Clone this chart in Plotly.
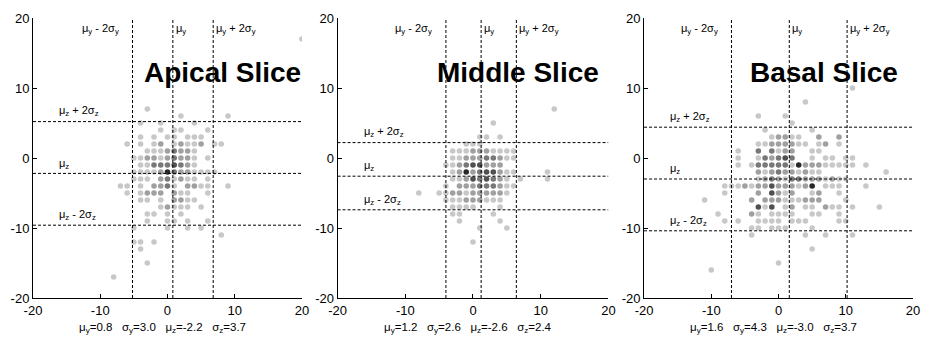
import plotly.graph_objects as go

# ---------------- data ----------------
slice_names = ["Apical Slice", "Middle Slice", "Basal Slice"]
mu_y = [0.8, 1.2, 1.6]
sigma_y = [3.0, 2.6, 4.3]
mu_z = [-2.2, -2.6, -3.0]
sigma_z = [3.7, 2.4, 3.7]
axis_ticks = [-20, -10, 0, 10, 20]
title_pos_y = [8.2, 6.6, 6.8]   # horizontal centre of slice title (data units)

# (y, z, count) for each occupied grid cell
apical_points = [
    (20, 17, 1), (-3, 7, 1), (2, 6, 1), (9, 6, 1),
    (-4, 5, 1), (-1, 5, 1), (4, 5, 1),
    (-1, 4, 1), (1, 4, 1), (2, 4, 1), (6, 4, 1),
    (-4, 3, 1), (-2, 3, 1), (0, 3, 1), (1, 3, 1), (3, 3, 1), (4, 3, 1), (5, 3, 1),
    (-6, 2, 1), (-4, 2, 1), (-2, 2, 1), (-1, 2, 2), (1, 2, 1), (2, 2, 2), (3, 2, 1), (4, 2, 1), (5, 2, 2), (7, 2, 1), (8, 2, 1),
    (-3, 1, 1), (-2, 1, 1), (-1, 1, 1), (0, 1, 2), (1, 1, 3), (2, 1, 2), (3, 1, 2), (4, 1, 1),
    (-5, 0, 1), (-4, 0, 1), (-3, 0, 2), (-2, 0, 2), (-1, 0, 1), (0, 0, 2), (1, 0, 3), (2, 0, 2), (3, 0, 2), (4, 0, 1), (6, 0, 1),
    (-4, -1, 1), (-3, -1, 1), (-2, -1, 3), (-1, -1, 3), (0, -1, 3), (1, -1, 4), (2, -1, 3), (3, -1, 2), (4, -1, 1),
    (-5, -2, 1), (-4, -2, 1), (-3, -2, 1), (-2, -2, 1), (-1, -2, 2), (0, -2, 5), (1, -2, 3), (2, -2, 2), (3, -2, 2), (4, -2, 1), (5, -2, 1), (6, -2, 1), (7, -2, 1),
    (-5, -3, 1), (-4, -3, 1), (-3, -3, 1), (-1, -3, 2), (0, -3, 3), (1, -3, 1), (2, -3, 2), (3, -3, 1), (4, -3, 1), (6, -3, 1),
    (-7, -4, 1), (-6, -4, 1), (-4, -4, 1), (-2, -4, 2), (-1, -4, 2), (0, -4, 3), (1, -4, 1), (3, -4, 2), (4, -4, 2), (5, -4, 1), (6, -4, 1), (9, -4, 1),
    (-6, -5, 1), (-4, -5, 1), (-3, -5, 2), (-2, -5, 2), (-1, -5, 2), (1, -5, 2), (2, -5, 1), (3, -5, 1), (6, -5, 1),
    (-4, -6, 1), (-3, -6, 1), (-1, -6, 1), (1, -6, 2), (2, -6, 2), (3, -6, 1), (4, -6, 1),
    (-1, -7, 1), (0, -7, 2), (1, -7, 1), (2, -7, 1), (3, -7, 1), (5, -7, 1),
    (-3, -8, 1), (-2, -8, 1), (0, -8, 1), (2, -8, 1),
    (-3, -9, 1), (0, -9, 1), (1, -9, 1), (3, -9, 1), (6, -9, 1),
    (-5, -10, 1), (0, -10, 1), (3, -10, 1), (5, -10, 1),
    (8, -11, 1), (-5, -12, 1), (-4, -12, 1), (-2, -12, 1), (-4, -13, 1), (-3, -15, 1), (-8, -17, 1),
]

middle_points = [
    (12, 7, 1), (3, 5, 1),
    (1, 3, 1), (2, 3, 1), (4, 3, 1),
    (-1, 2, 1), (0, 2, 1), (1, 2, 1),
    (-3, 1, 1), (-2, 1, 1), (-1, 1, 1), (0, 1, 2), (1, 1, 2), (2, 1, 2), (3, 1, 1), (4, 1, 1), (5, 1, 1), (6, 1, 1),
    (-3, 0, 1), (-2, 0, 1), (-1, 0, 2), (0, 0, 2), (1, 0, 2), (2, 0, 3), (3, 0, 3), (4, 0, 2), (5, 0, 1), (6, 0, 1),
    (-4, -1, 1), (-3, -1, 1), (-2, -1, 2), (-1, -1, 3), (0, -1, 4), (1, -1, 4), (2, -1, 2), (3, -1, 2), (4, -1, 2),
    (-3, -2, 1), (-2, -2, 2), (-1, -2, 5), (0, -2, 2), (1, -2, 3), (2, -2, 4), (3, -2, 4), (4, -2, 2), (5, -2, 1), (6, -2, 1), (11, -2, 1),
    (-3, -3, 1), (-2, -3, 1), (-1, -3, 2), (0, -3, 4), (1, -3, 3), (2, -3, 4), (3, -3, 3), (4, -3, 2), (5, -3, 1), (7, -3, 1), (11, -3, 1),
    (-4, -4, 1), (-2, -4, 2), (-1, -4, 2), (0, -4, 2), (1, -4, 3), (2, -4, 3), (3, -4, 3), (4, -4, 2), (5, -4, 1), (6, -4, 1),
    (-8, -5, 1), (-5, -5, 1), (-4, -5, 1), (-3, -5, 2), (-2, -5, 2), (-1, -5, 1), (0, -5, 2), (1, -5, 2), (2, -5, 2), (3, -5, 2), (4, -5, 2), (5, -5, 1),
    (-4, -6, 1), (-3, -6, 1), (-2, -6, 1), (-1, -6, 2), (0, -6, 2), (1, -6, 2), (2, -6, 1), (3, -6, 1), (4, -6, 1),
    (-3, -7, 1), (-2, -7, 1), (-1, -7, 1), (0, -7, 1), (4, -7, 1),
    (-3, -8, 1), (-2, -8, 1), (3, -8, 1),
    (-2, -9, 1), (4, -9, 1),
    (1, -10, 1), (5, -10, 1), (0, -12, 1),
]

basal_points = [
    (11, 10, 1), (4, 8, 1), (-3, 6, 1), (1, 6, 1), (2, 5, 1), (-2, 4, 1), (5, 4, 1),
    (-1, 3, 1), (0, 3, 2), (1, 3, 2), (2, 3, 1), (3, 3, 1), (6, 3, 2), (9, 3, 2),
    (-3, 2, 1), (-2, 2, 1), (-1, 2, 2), (0, 2, 2), (1, 2, 2), (2, 2, 2), (3, 2, 1), (4, 2, 1), (6, 2, 1), (7, 2, 2), (9, 2, 1),
    (-6, 1, 1), (-3, 1, 3), (-1, 1, 3), (0, 1, 1), (1, 1, 2), (2, 1, 2), (5, 1, 1), (6, 1, 1),
    (-6, 0, 1), (-3, 0, 1), (-2, 0, 3), (-1, 0, 2), (0, 0, 3), (1, 0, 4), (2, 0, 3), (5, 0, 1), (7, 0, 1), (8, 0, 1), (10, 0, 1), (11, 0, 1),
    (-6, -1, 1), (-4, -1, 1), (-3, -1, 3), (-2, -1, 3), (-1, -1, 3), (0, -1, 3), (1, -1, 3), (2, -1, 1), (3, -1, 5), (4, -1, 2), (5, -1, 2), (6, -1, 2),
    (7, -1, 1), (8, -1, 1), (9, -1, 1), (10, -1, 1), (11, -1, 1), (13, -1, 1),
    (-3, -2, 2), (-2, -2, 1), (-1, -2, 2), (0, -2, 3), (1, -2, 2), (2, -2, 2), (3, -2, 1), (4, -2, 2), (5, -2, 1), (6, -2, 1), (16, -2, 1),
    (-3, -3, 1), (-2, -3, 2), (-1, -3, 3), (0, -3, 2), (1, -3, 1), (2, -3, 3), (3, -3, 3), (4, -3, 2), (5, -3, 2), (6, -3, 2), (7, -3, 1), (8, -3, 2), (9, -3, 1), (10, -3, 1),
    (-8, -4, 1), (-7, -4, 1), (-6, -4, 1), (-5, -4, 2), (-4, -4, 1), (-3, -4, 2), (-2, -4, 2), (-1, -4, 4), (0, -4, 2), (1, -4, 2), (2, -4, 2), (3, -4, 1), (4, -4, 2), (5, -4, 5),
    (7, -4, 1), (8, -4, 1), (9, -4, 1), (13, -4, 1),
    (-8, -5, 1), (-3, -5, 2), (-1, -5, 4), (0, -5, 2), (1, -5, 1), (2, -5, 2), (5, -5, 1), (6, -5, 2), (9, -5, 1),
    (-11, -6, 1), (-4, -6, 2), (-2, -6, 2), (-1, -6, 2), (0, -6, 2), (1, -6, 1), (2, -6, 1), (3, -6, 1), (4, -6, 2), (5, -6, 2), (6, -6, 2), (10, -6, 1),
    (-3, -7, 4), (-2, -7, 1), (-1, -7, 4), (1, -7, 1), (2, -7, 2), (4, -7, 1), (5, -7, 1), (7, -7, 2), (8, -7, 1), (9, -7, 1), (11, -7, 1), (15, -7, 1),
    (-9, -8, 1), (-4, -8, 2), (-3, -8, 1), (-1, -8, 1), (0, -8, 1), (1, -8, 1), (2, -8, 1), (5, -8, 1), (6, -8, 1), (9, -8, 1),
    (-8, -9, 1), (-6, -9, 1), (-3, -9, 1), (-2, -9, 1), (-1, -9, 1), (0, -9, 1), (2, -9, 1), (3, -9, 1), (4, -9, 1), (9, -9, 1), (10, -9, 1),
    (-4, -10, 1), (-3, -10, 1), (-1, -10, 1), (0, -10, 1), (1, -10, 1), (5, -10, 1),
    (-4, -11, 1), (4, -11, 1), (7, -11, 1), (11, -11, 1),
    (5, -13, 1), (0, -15, 1), (-10, -16, 1),
]

all_points = [apical_points, middle_points, basal_points]

# ---------------- figure ----------------
W, H = 931, 340
ML, MR, MT, MB = 30, 11, 13, 42
plot_w = W - ML - MR
panel_px = [(30, 302), (338, 612), (648, 920)]
domains = [((a - ML) / plot_w, (b - ML) / plot_w) for a, b in panel_px]

FONT = "Liberation Sans, Arial, sans-serif"
NB = "\u00a0"
dash = "3px,2px"

fig = go.Figure()
annotations = []
shapes = []

for i in range(3):
    xa = "x" if i == 0 else f"x{i+1}"
    ya = "y" if i == 0 else f"y{i+1}"
    pts = all_points[i]
    ys = [p[0] for p in pts]
    zs = [p[1] for p in pts]
    ns = [p[2] for p in pts]
    fig.add_trace(go.Scatter(
        x=ys, y=zs, mode="markers", xaxis=xa, yaxis=ya, showlegend=False,
        marker=dict(size=5.6, color=ns, cmin=1, cmax=5, showscale=False,
                    colorscale=[[0, "rgb(200,200,200)"], [1, "rgb(40,40,40)"]],
                    line=dict(width=0)),
        hoverinfo="x+y",
    ))

    ax_common = dict(range=[-20, 20], tickvals=axis_ticks, ticktext=[str(t) for t in axis_ticks],
                     showline=True, linecolor="black", linewidth=1, ticks="inside", ticklen=4,
                     tickcolor="black", showgrid=False, zeroline=False,
                     tickfont=dict(family=FONT, size=13, color="black"))
    xkey = "xaxis" if i == 0 else f"xaxis{i+1}"
    ykey = "yaxis" if i == 0 else f"yaxis{i+1}"
    fig.update_layout(**{
        xkey: dict(ax_common, domain=list(domains[i]), anchor=ya),
        ykey: dict(ax_common, domain=[0, 1], anchor=xa),
    })

    my, sy, mz, sz = mu_y[i], sigma_y[i], mu_z[i], sigma_z[i]
    vlines = [my - 2 * sy, my, my + 2 * sy]
    hlines = [mz - 2 * sz, mz, mz + 2 * sz]
    for v in vlines:
        shapes.append(dict(type="line", xref=xa, yref=ya, x0=v, x1=v, y0=-20, y1=20,
                           line=dict(color="black", width=1, dash=dash)))
    for h in hlines:
        shapes.append(dict(type="line", xref=xa, yref=ya, x0=-20, x1=20, y0=h, y1=h,
                           line=dict(color="black", width=1, dash=dash)))

    small = dict(family=FONT, size=11, color="black")
    # top labels
    annotations.append(dict(xref=xa, yref=ya, x=vlines[0] - 1.7, y=18.5, xanchor="right", yanchor="middle",
                            text=f"μ<sub>y</sub>{NB}-{NB}2σ<sub>y</sub>", showarrow=False, font=small))
    annotations.append(dict(xref=xa, yref=ya, x=vlines[1] + 0.1, y=18.5, xanchor="left", yanchor="middle",
                            text="μ<sub>y</sub>", showarrow=False, font=small))
    annotations.append(dict(xref=xa, yref=ya, x=vlines[2] + 0.1, y=18.5, xanchor="left", yanchor="middle",
                            text=f"μ<sub>y</sub>{NB}+{NB}2σ<sub>y</sub>", showarrow=False, font=small))
    # left labels
    annotations.append(dict(xref=xa, yref=ya, x=-16.4, y=hlines[2] + 1.5, xanchor="left", yanchor="middle",
                            text=f"μ<sub>z</sub>{NB}+{NB}2σ<sub>z</sub>", showarrow=False, font=small))
    annotations.append(dict(xref=xa, yref=ya, x=-16.4, y=hlines[1] + 1.4, xanchor="left", yanchor="middle",
                            text="μ<sub>z</sub>", showarrow=False, font=small))
    annotations.append(dict(xref=xa, yref=ya, x=-16.4, y=hlines[0] + 1.4, xanchor="left", yanchor="middle",
                            text=f"μ<sub>z</sub>{NB}-{NB}2σ<sub>z</sub>", showarrow=False, font=small))
    # slice title
    annotations.append(dict(xref=xa, yref=ya, x=title_pos_y[i], y=12.2, xanchor="center", yanchor="middle",
                            text=f"<b>{slice_names[i]}</b>", showarrow=False,
                            font=dict(family=FONT, size=28, color="black")))
    # bottom stats
    sep = NB * 3
    stats = (f"μ<sub>y</sub>={my:.1f}{sep}σ<sub>y</sub>={sy:.1f}{sep}"
             f"μ<sub>z</sub>={mz:.1f}{sep}σ<sub>z</sub>={sz:.1f}")
    annotations.append(dict(xref=f"{xa} domain", yref="paper", x=0.48, y=-0.108, xanchor="center",
                            yanchor="middle", text=stats, showarrow=False,
                            font=dict(family=FONT, size=11.5, color="black")))

fig.update_layout(
    width=W, height=H,
    margin=dict(l=ML, r=MR, t=MT, b=MB),
    paper_bgcolor="white", plot_bgcolor="white",
    shapes=shapes, annotations=annotations,
    showlegend=False,
)

fig.write_html("out.html", config={"displayModeBar": False},
               post_script="document.body.style.margin='0px';")
